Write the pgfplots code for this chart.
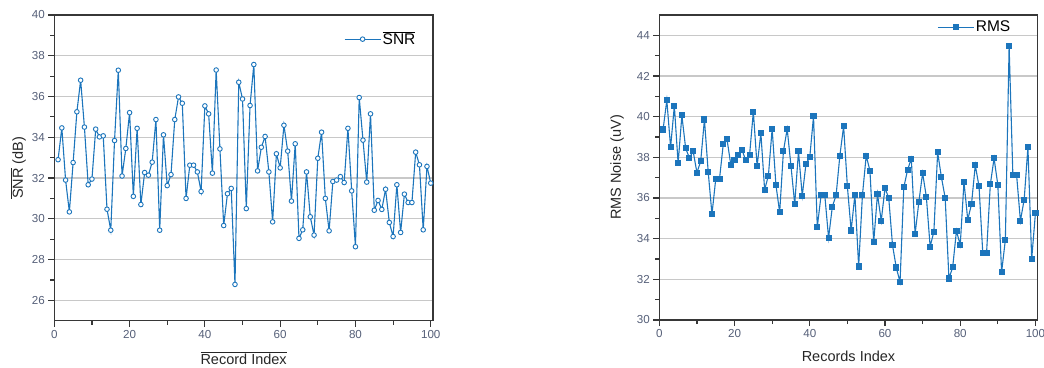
\documentclass[border=0pt]{standalone}
\usepackage{fontspec}
\setmainfont{Liberation Sans}
\usepackage{pgfplots}
\usepackage{pgfplotstable}
\pgfplotsset{compat=1.18}
\definecolor{dblue}{RGB}{28,117,188}
\definecolor{tickc}{RGB}{85,95,120}
\definecolor{gridc}{RGB}{200,200,200}
\definecolor{axc}{RGB}{55,55,55}

\pgfplotstableread{
x y
1 32.9
2 34.46
3 31.9
4 30.34
5 32.76
6 35.25
7 36.8
8 34.5
9 31.67
10 31.95
11 34.4
12 34.02
13 34.07
14 30.47
15 29.44
16 33.84
17 37.29
18 32.1
19 33.45
20 35.21
21 31.1
22 34.44
23 30.7
24 32.27
25 32.14
26 32.78
27 34.87
28 29.44
29 34.12
30 31.63
31 32.17
32 34.87
33 35.98
34 35.67
35 31.0
36 32.63
37 32.63
38 32.3
39 31.34
40 35.54
41 35.15
42 32.24
43 37.3
44 33.43
45 29.67
46 31.23
47 31.49
48 26.78
49 36.7
50 35.88
51 30.5
52 35.56
53 37.57
54 32.35
55 33.51
56 34.04
57 32.3
58 29.85
59 33.19
60 32.5
61 34.59
62 33.32
63 30.87
64 33.68
65 29.04
66 29.46
67 32.3
68 30.1
69 29.2
70 32.97
71 34.25
72 31.0
73 29.41
74 31.83
75 31.9
76 32.07
77 31.78
78 34.44
79 31.37
80 28.63
81 35.95
82 33.86
83 31.8
84 35.15
85 30.42
86 30.9
87 30.46
88 31.45
89 29.82
90 29.13
91 31.67
92 29.33
93 31.21
94 30.8
95 30.8
96 33.27
97 32.65
98 29.46
99 32.57
100 31.75
}\snrtable

\pgfplotstableread{
x y
1 39.37
2 40.81
3 38.5
4 40.53
5 37.7
6 40.06
7 38.45
8 37.97
9 38.3
10 37.25
11 37.8
12 39.86
13 37.28
14 35.2
15 36.93
16 36.93
17 38.64
18 38.89
19 37.64
20 37.89
21 38.12
22 38.35
23 37.85
24 38.12
25 40.25
26 37.56
27 39.2
28 36.4
29 37.1
30 39.4
31 36.65
32 35.29
33 38.31
34 39.4
35 37.59
36 35.7
37 38.3
38 36.11
39 37.69
40 38.0
41 40.02
42 34.57
43 36.13
44 36.13
45 34.04
46 35.57
47 36.13
48 38.08
49 39.53
50 36.57
51 34.4
52 36.16
53 32.63
54 36.13
55 38.08
56 37.34
57 33.83
58 36.19
59 34.88
60 36.49
61 36.0
62 33.68
63 32.58
64 31.86
65 36.52
66 37.38
67 37.94
68 34.22
69 35.8
70 37.23
71 36.05
72 33.61
73 34.35
74 38.25
75 37.02
76 36.01
77 32.04
78 32.6
79 34.39
80 33.68
81 36.79
82 34.93
83 35.7
84 37.62
85 36.57
86 33.29
87 33.29
88 36.67
89 37.95
90 36.64
91 32.35
92 33.94
93 43.47
94 37.11
95 37.11
96 34.88
97 35.92
98 38.5
99 32.99
100 35.27
}\rmstable

\pgfplotsset{
  myaxis/.style={
    scale only axis,
    anchor=south west,
    xmin=0, xmax=100.6,
    xtick={0,20,...,100},
    minor x tick num=1,
    minor y tick num=1,
    tick align=outside,
    tick pos=left,
    major tick length=6pt,
    minor tick length=4pt,
    axis line style={axc, line width=1.5pt},
    every tick/.style={axc, line width=1.2pt},
    ymajorgrids,
    grid style={gridc, line width=1.1pt},
    tick label style={font=\fontsize{11.6}{12}\selectfont, text=tickc},
    label style={font=\fontsize{14.5}{16}\selectfont, text=black!85},
    /pgf/number format/assume math mode=true,
    legend cell align=left,
    legend style={draw=none, fill=none, inner xsep=0pt, inner ysep=0pt,
      font=\fontsize{15.5}{17}\selectfont, nodes={inner sep=1.5pt}},
    legend image code/.code={
      \draw[mark repeat=2, mark phase=2] plot coordinates {(0pt,0pt) (18pt,0pt) (36pt,0pt)};},
  }
}

\begin{document}
\begin{tikzpicture}
\path[use as bounding box] (0,0) rectangle (1044pt,367pt);

\begin{axis}[myaxis,
  at={(54.3pt,46.3pt)},
  width=378.7pt, height=305.7pt,
  ymin=25, ymax=40,
  ytick={26,28,...,40},
  xlabel={$\overline{\hbox{Record Index}}$},
  ylabel={$\overline{\hbox{SNR}}$ (dB)},
  xlabel style={at={(axis description cs:0.5,0)}, anchor=center, yshift=-37.5pt},
  ylabel style={at={(axis description cs:0,0.5)}, anchor=center, yshift=36pt},
  legend style={at={(axis description cs:0.958,0.921)}, anchor=east},
]
\addplot[color=dblue, line width=1.1pt, mark=*, mark size=2.3pt,
  mark options={fill=white, draw=dblue, line width=0.9pt}]
  table[x=x, y=y] {\snrtable};
\addlegendentry{$\overline{\hbox{SNR}}$}
\end{axis}

\begin{axis}[myaxis,
  at={(659.3pt,47pt)},
  width=378.4pt, height=305pt,
  ymin=30, ymax=45,
  ytick={30,32,...,44},
  xlabel={Records Index},
  ylabel={RMS Noise (uV)},
  xlabel style={at={(axis description cs:0.5,0)}, anchor=center, yshift=-36pt},
  ylabel style={at={(axis description cs:0,0.5)}, anchor=center, yshift=42.3pt},
  legend style={at={(axis description cs:0.932,0.96)}, anchor=east},
]
\addplot[color=dblue, line width=1.1pt, mark=square*, mark size=2.5pt,
  mark options={fill=dblue, draw=dblue}]
  table[x=x, y=y] {\rmstable};
\addlegendentry{RMS}
\end{axis}
\end{tikzpicture}
\end{document}
